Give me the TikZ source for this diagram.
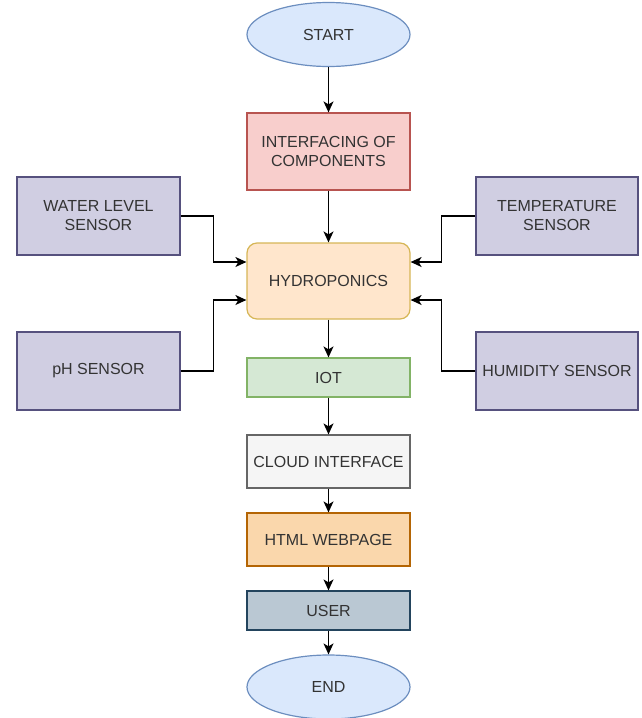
\documentclass[tikz,border=0pt]{standalone}
\usepackage{fontspec}
\setmainfont{Liberation Sans}
\usetikzlibrary{shapes.geometric,arrows.meta,calc}
\definecolor{txt}{HTML}{333333}
\definecolor{bluef}{HTML}{DAE8FC}\definecolor{blued}{HTML}{6C8EBF}
\definecolor{redf}{HTML}{F8CECC}\definecolor{redd}{HTML}{B85450}
\definecolor{purf}{HTML}{D0CEE2}\definecolor{purd}{HTML}{56517E}
\definecolor{orf}{HTML}{FFE6CC}\definecolor{ord}{HTML}{D6B656}
\definecolor{grf}{HTML}{D5E8D4}\definecolor{grd}{HTML}{82B366}
\definecolor{gyf}{HTML}{F5F5F5}\definecolor{gyd}{HTML}{666666}
\definecolor{htf}{HTML}{FAD7AC}\definecolor{htd}{HTML}{B46504}
\definecolor{usf}{HTML}{BAC8D3}\definecolor{usd}{HTML}{23445D}
\tikzset{
  base/.style={font=\fontsize{16}{19}\selectfont, text=txt, align=center, line width=1.2pt, inner sep=2pt},
  box/.style={base, rectangle, minimum width=163pt},
  oval/.style={base, ellipse, minimum width=163pt, minimum height=64pt, fill=bluef, draw=blued},
  sensor/.style={box, minimum height=78pt, fill=purf, draw=purd},
  arr/.style={line width=1.4pt, -{Stealth[length=11pt,width=10pt,inset=3pt]}}
}
\begin{document}
\begin{tikzpicture}[x=1pt,y=-1pt]
\useasboundingbox (0,0) rectangle (641,718);
\node[oval] (start) at (328.5,34.5) {START};
\node[box, minimum height=77pt, fill=redf, draw=redd] (intf) at (328.5,151.5) {INTERFACING OF\\COMPONENTS};
\node[sensor] (water) at (98.5,216) {WATER LEVEL\\SENSOR};
\node[sensor, minimum width=162pt] (temp) at (557,216) {TEMPERATURE\\SENSOR};
\node[box, rounded corners=10pt, minimum height=76pt, fill=orf, draw=ord] (hydro) at (328.5,281) {HYDROPONICS};
\node[sensor] (ph) at (98.5,371) {pH SENSOR};
\node[sensor, minimum width=162pt] (hum) at (557,371) {HUMIDITY SENSOR};
\node[box, minimum height=39pt, fill=grf, draw=grd] (iot) at (328.5,377.5) {IOT};
\node[box, minimum height=53pt, fill=gyf, draw=gyd] (cloud) at (328.5,461.5) {CLOUD INTERFACE};
\node[box, minimum height=53pt, fill=htf, draw=htd] (html) at (328.5,539.5) {HTML WEBPAGE};
\node[box, minimum height=39pt, fill=usf, draw=usd] (user) at (328.5,610.5) {USER};
\node[oval] (end) at (328.5,687) {END};
\draw[arr] (start) -- (intf);
\draw[arr] (intf) -- (hydro);
\draw[arr] (hydro) -- (iot);
\draw[arr] (iot) -- (cloud);
\draw[arr] (cloud) -- (html);
\draw[arr] (html) -- (user);
\draw[arr] (user) -- (end);
\draw[arr] (water.east) -- ++(33,0) |- ([yshift=19pt]hydro.west);
\draw[arr] (ph.east) -- ++(33,0) |- ([yshift=-19pt]hydro.west);
\draw[arr] (temp.west) -- ++(-34,0) |- ([yshift=19pt]hydro.east);
\draw[arr] (hum.west) -- ++(-34,0) |- ([yshift=-19pt]hydro.east);
\end{tikzpicture}
\end{document}
